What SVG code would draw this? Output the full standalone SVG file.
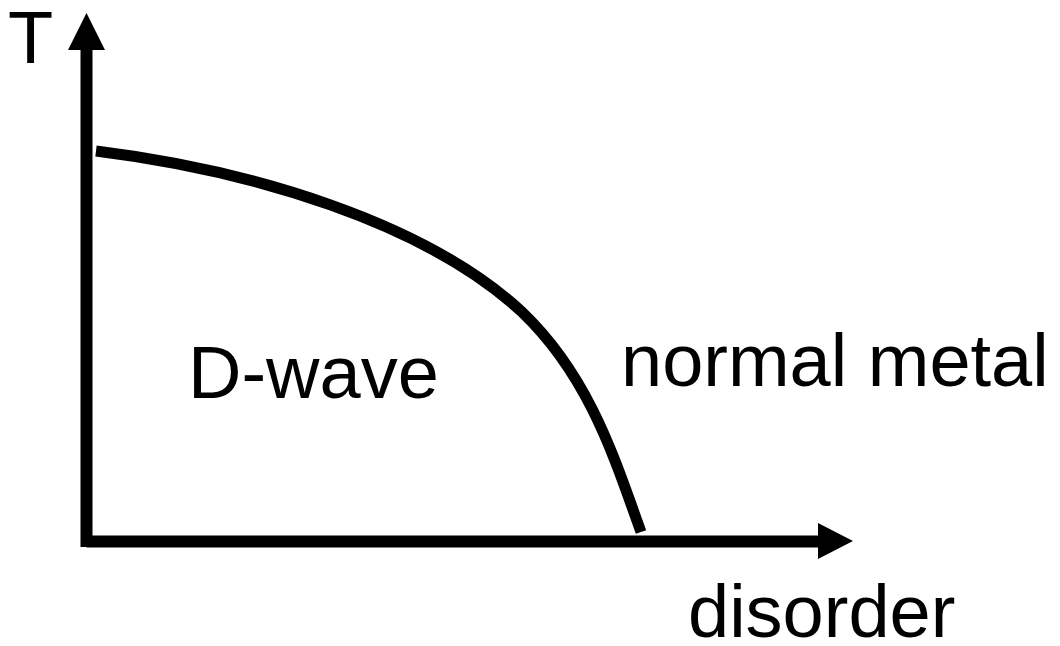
<svg xmlns="http://www.w3.org/2000/svg" width="1060" height="646" viewBox="0 0 1060 646">
<style>
text{font-family:"Liberation Sans",Arial,sans-serif;font-size:74px;fill:#000}
.ax{stroke:#000;stroke-width:12;fill:none}
.cv{stroke:#000;stroke-width:11;fill:none}
</style>
<rect width="1060" height="646" fill="#fff"/>
<g id="axes">
<line class="ax" x1="86.5" y1="48" x2="86.5" y2="547"/>
<polygon points="86.5,13 68,50 105,50" fill="#000"/>
<line class="ax" x1="86.5" y1="541.5" x2="820" y2="541.5"/>
<polygon points="853,541 818,523 818,559" fill="#000"/>
</g>
<g id="curve">
<path class="cv" d="M96,151 C250,170 425,222 522,312 C590,377 615,460 641,532"/>
</g>
<g id="labels">
<text x="8" y="63">T</text>
<text x="188" y="398">D-wave</text>
<text x="621" y="386">normal metal</text>
<text x="688" y="637">disorder</text>
</g>
</svg>
